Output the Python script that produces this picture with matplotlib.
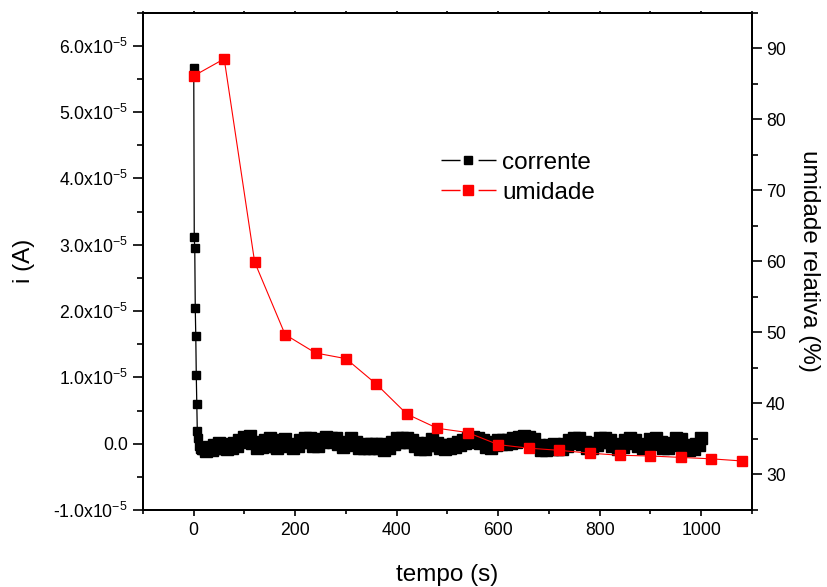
#!/usr/bin/env python3

import matplotlib
matplotlib.use("Agg")
import matplotlib.pyplot as plt
from matplotlib.lines import Line2D
from matplotlib.ticker import MultipleLocator, FuncFormatter

plt.rcParams["font.family"] = ["Liberation Sans", "DejaVu Sans"]
plt.rcParams["mathtext.fontset"] = "custom"
plt.rcParams["mathtext.rm"] = "Liberation Sans"
plt.rcParams["mathtext.it"] = "Liberation Sans:italic"
plt.rcParams["mathtext.bf"] = "Liberation Sans:bold"

# current (in units of 1e-5 A) vs time (s)
cur_time = [0, 1, 2, 3, 4, 5, 6, 7, 8, 10, 12, 15,
            20, 25, 30, 35, 40, 45, 50, 55, 60, 65,
            70, 75, 80, 85, 90, 95, 100, 105, 110, 115,
            120, 125, 130, 135, 140, 145, 150, 155, 160, 165,
            170, 175, 180, 185, 190, 195, 200, 205, 210, 215,
            220, 225, 230, 235, 240, 245, 250, 255, 260, 265,
            270, 275, 280, 285, 290, 295, 300, 305, 310, 315,
            320, 325, 330, 335, 340, 345, 350, 355, 360, 365,
            370, 375, 380, 385, 390, 395, 400, 405, 410, 415,
            420, 425, 430, 435, 440, 445, 450, 455, 460, 465,
            470, 475, 480, 485, 490, 495, 500, 505, 510, 515,
            520, 525, 530, 535, 540, 545, 550, 555, 560, 565,
            570, 575, 580, 585, 590, 595, 600, 605, 610, 615,
            620, 625, 630, 635, 640, 645, 650, 655, 660, 665,
            670, 675, 680, 685, 690, 695, 700, 705, 710, 715,
            720, 725, 730, 735, 740, 745, 750, 755, 760, 765,
            770, 775, 780, 785, 790, 795, 800, 805, 810, 815,
            820, 825, 830, 835, 840, 845, 850, 855, 860, 865,
            870, 875, 880, 885, 890, 895, 900, 905, 910, 915,
            920, 925, 930, 935, 940, 945, 950, 955, 960, 965,
            970, 975, 980, 985, 990, 995, 1000]
cur_val = [5.67, 3.11, 2.95, 2.04, 1.63, 1.03, 0.60, 0.19, 0.08, -0.04, -0.08, -0.09,
           -0.06, -0.11, -0.05, -0.10, -0.02, -0.07, 0.01, -0.07, -0.02, -0.08,
           -0.01, -0.06, 0.01, -0.03, 0.05, 0.02, 0.10, 0.05, 0.11, 0.01,
           0.03, -0.07, -0.04, -0.05, 0.06, 0.02, 0.09, -0.04, -0.04, -0.06,
           0.05, 0.00, 0.07, -0.03, 0.00, -0.07, -0.02, -0.04, 0.06, 0.02,
           0.09, 0.03, 0.08, -0.03, -0.01, -0.03, 0.07, 0.03, 0.10, 0.04,
           0.09, 0.03, 0.08, -0.01, 0.03, -0.05, 0.00, -0.02, 0.08, -0.01,
           0.03, -0.06, -0.02, -0.07, 0.00, -0.06, 0.00, -0.06, 0.00, -0.07,
           -0.01, -0.09, -0.05, -0.07, 0.03, -0.01, 0.08, 0.03, 0.09, 0.03,
           0.09, 0.02, 0.06, -0.03, 0.01, -0.08, -0.05, -0.08, 0.01, -0.02,
           0.07, -0.02, 0.01, -0.07, -0.02, -0.08, -0.02, -0.07, 0.00, -0.05,
           0.03, -0.02, 0.05, 0.01, 0.09, 0.04, 0.10, 0.03, 0.08, 0.01,
           0.05, -0.05, -0.02, -0.06, 0.03, -0.02, 0.06, 0.00, 0.05, 0.00,
           0.06, 0.01, 0.08, 0.03, 0.10, 0.05, 0.11, 0.05, 0.10, 0.03,
           0.07, -0.04, -0.02, -0.09, -0.03, -0.09, -0.02, -0.08, -0.01, -0.08,
           -0.03, -0.08, -0.01, -0.04, 0.05, 0.01, 0.09, 0.03, 0.08, -0.01,
           0.03, -0.06, -0.02, -0.07, 0.01, -0.02, 0.08, 0.03, 0.09, 0.02,
           0.06, -0.04, -0.01, -0.08, -0.03, -0.05, 0.05, 0.01, 0.09, 0.02,
           0.06, -0.04, -0.02, -0.07, 0.00, -0.03, 0.07, 0.02, 0.09, 0.00,
           0.03, -0.06, -0.03, -0.07, 0.01, -0.02, 0.08, 0.02, 0.07, -0.04,
           -0.02, -0.09, -0.04, -0.08, 0.00, -0.02, 0.08]

# relative humidity (%) vs time (s)
hum_time = [0, 60, 120, 180, 240, 300, 360, 420, 480, 540,
            600, 660, 720, 780, 840, 900, 960, 1020, 1080]
hum_val = [86.1, 88.5, 59.9, 49.7, 47.1, 46.3, 42.7, 38.5, 36.5, 35.9,
           34.2, 33.7, 33.4, 33.0, 32.7, 32.6, 32.4, 32.2, 31.9]


def sci_fmt(v, pos):
    m = v / 1e-5
    if abs(m) < 1e-9:
        return "0.0"
    return r"%.1fx10$^{-5}$" % m


fig = plt.figure(figsize=(8.28, 5.87), dpi=100)
ax = fig.add_axes([0.1727, 0.1312, 0.7355, 0.8472])
ax2 = ax.twinx()

cur_amp = [v * 1e-5 for v in cur_val]
ax.plot(cur_time, cur_amp, color="black", lw=0.9,
        marker="s", ms=5.8, mec="black", mfc="black")
# dense, noisy part of the record: symbols overlap into a thick band
ax.plot(cur_time[12:], cur_amp[12:], ls="none",
        marker="s", ms=8.3, mec="black", mfc="black")
ax2.plot(hum_time, hum_val, color="red", lw=0.8,
         marker="s", ms=6.8, mec="red", mfc="red")

ax.set_xlim(-100, 1100)
ax.set_ylim(-1e-5, 6.5e-5)
ax2.set_ylim(25, 95)

ax.xaxis.set_major_locator(MultipleLocator(200))
ax.xaxis.set_minor_locator(MultipleLocator(100))
ax.yaxis.set_major_locator(MultipleLocator(1e-5))
ax.yaxis.set_minor_locator(MultipleLocator(0.5e-5))
ax.yaxis.set_major_formatter(FuncFormatter(sci_fmt))
ax2.yaxis.set_major_locator(MultipleLocator(10))
ax2.yaxis.set_minor_locator(MultipleLocator(5))

for a in (ax, ax2):
    for s in a.spines.values():
        s.set_linewidth(1.4)
ax.tick_params(axis="x", which="major", length=4.5, width=1.2, labelsize=12.7, pad=4)
ax.tick_params(axis="x", which="minor", length=3, width=1.2)
ax.tick_params(axis="x", which="both", top=True, labeltop=False)
for t in ax.xaxis.get_major_ticks() + ax.xaxis.get_minor_ticks():
    t.tick2line.set_markersize(1.2)
ax.tick_params(axis="y", which="major", length=7, width=1.2, labelsize=12.7, pad=4)
ax.tick_params(axis="y", which="minor", length=4.5, width=1.2)
ax2.tick_params(axis="y", which="major", length=7, width=1.2, labelsize=12.7, pad=3)
ax2.tick_params(axis="y", which="minor", length=4.5, width=1.2)

ax.set_xlabel("tempo (s)", fontsize=17.5, labelpad=18)
ax.set_ylabel("i (A)", fontsize=17.5, labelpad=13)
ax2.set_ylabel("umidade relativa (%)", fontsize=17.5, rotation=270, labelpad=25)

# legend handles: line broken around the symbol
blk_line = Line2D([], [], color="black", lw=1.0, dashes=(13.7, 13.0))
blk_mark = Line2D([], [], ls="none", marker="s", ms=5.8, mfc="black", mec="black")
red_line = Line2D([], [], color="red", lw=1.0, dashes=(13.7, 13.0))
red_mark = Line2D([], [], ls="none", marker="s", ms=6.8, mfc="red", mec="red")
fig.legend([(blk_line, blk_mark), (red_line, red_mark)], ["corrente", "umidade"],
           loc="center left", bbox_to_anchor=(0.5326, 0.697),
           bbox_transform=fig.transFigure, frameon=False, fontsize=17.5,
           handlelength=2.26, handletextpad=0.25, labelspacing=0.32,
           borderpad=0, borderaxespad=0, numpoints=1)

fig.savefig("out.png", dpi=100)
